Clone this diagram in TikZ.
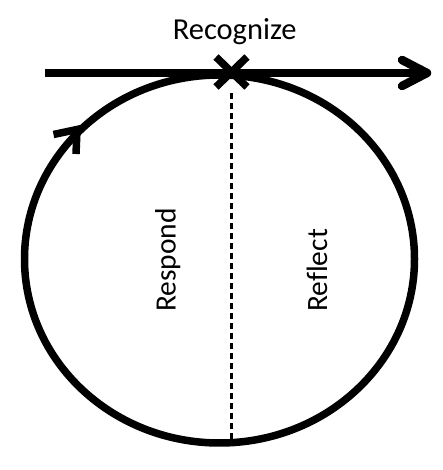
\documentclass[tikz,border=0pt]{standalone}
\usepackage{fontspec}
\setmainfont{Carlito}[Ligatures=NoCommon]
\begin{document}
\begin{tikzpicture}[x=1pt,y=1pt,
  thickline/.style={line width=8.5pt},
  ringline/.style={line width=7.5pt},
  headline/.style={line width=7.5pt},
  lbl/.style={inner sep=0pt, font=\fontsize{29.5}{32}\selectfont},
  toplbl/.style={inner sep=0pt, font=\fontsize{30.5}{33}\selectfont}]
\useasboundingbox (0,0) rectangle (443,470);
% ring
\draw[ringline] (219.5,211) ellipse [x radius=195, y radius=184];
% timeline
\coordinate (lstart) at (45,397);
\coordinate (lend) at (424,397);
\draw[thickline] (lstart) -- (lend);
\coordinate (tipA) at (402,410);
\coordinate (tip) at (427,397);
\coordinate (tipB) at (402,384);
\draw[thickline, line cap=round, line join=round] (tipA) -- (tip) -- (tipB);
% cross
\coordinate (x1) at (216,413);
\coordinate (x2) at (247,383);
\coordinate (x3) at (216,383);
\coordinate (x4) at (247,413);
\draw[headline] (x1) -- (x2);
\draw[headline] (x3) -- (x4);
% dashed divider
\coordinate (dtop) at (231.5,377);
\coordinate (dbot) at (231.5,28);
\draw[line width=2.2pt, dash pattern=on 6pt off 4pt] (dtop) -- (dbot);
% ring arrow head
\coordinate (ra) at (53.5,335.5);
\coordinate (rt) at (77,340.5);
\coordinate (rb) at (76,316);
\draw[headline, line join=miter] (ra) -- (rt) -- (rb);
% labels
\node[toplbl, anchor=base] (recog) at (234.7,430.7) {Recognize};
\node[lbl, rotate=90, anchor=base west] (resp) at (175.5,158) {Respond};
\node[lbl, rotate=90, anchor=base west] (refl) at (327,158) {Reflect};
\end{tikzpicture}
\end{document}
